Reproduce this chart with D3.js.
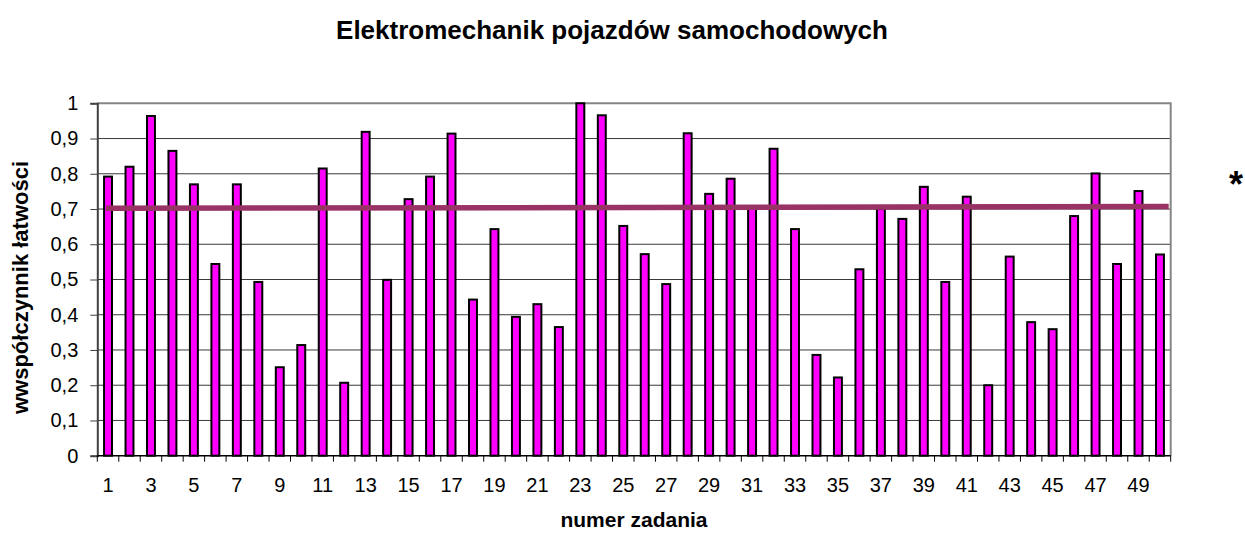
<!DOCTYPE html>
<html>
<head>
<meta charset="utf-8">
<script src="https://cdn.jsdelivr.net/npm/d3@7"></script>
<style>
	body { margin: 0; background: #fff; }
	svg { display: block; font-family: "Liberation Sans", Arial, sans-serif; }
</style>
</head>
<body>
<div id="chart"></div>
<script>
// numer zadania 1..50
const tasks = d3.range(1, 51).map(String);
// współczynnik łatwości per task
const easiness = [
	0.792, 0.820, 0.964, 0.865, 0.770, 0.544, 0.770, 0.493, 0.251, 0.314,
	0.815, 0.207, 0.919, 0.499, 0.728, 0.792, 0.914, 0.443, 0.643, 0.394,
	0.430, 0.365, 1.000, 0.966, 0.652, 0.572, 0.487, 0.915, 0.743, 0.786,
	0.702, 0.871, 0.643, 0.286, 0.222, 0.529, 0.701, 0.672, 0.763, 0.493,
	0.735, 0.200, 0.565, 0.379, 0.359, 0.680, 0.801, 0.544, 0.751, 0.571
];
// hand drawn 0.7 threshold line (left end, right end)
const threshold = [0.702, 0.707];
const yTicks = [0, 0.1, 0.2, 0.3, 0.4, 0.5, 0.6, 0.7, 0.8, 0.9, 1];
const xLabels = tasks.filter((d, i) => i % 2 === 0);

const width = 1245, height = 535;
const margin = {top: 103.3, right: 74.3, bottom: 79.3, left: 97.3};

const svg = d3.select("#chart").append("svg")
	.attr("width", width)
	.attr("height", height);

const x = d3.scaleBand()
	.domain(tasks)
	.range([margin.left, width - margin.right])
	.paddingInner(0.63)
	.paddingOuter(0.315);

const y = d3.scaleLinear()
	.domain([0, 1])
	.range([height - margin.bottom, margin.top]);

const step = x.step();

// gridlines
svg.append("g")
	.selectAll("line")
	.data(yTicks.filter(t => t > 0 && t < 1))
	.join("line")
	.attr("x1", margin.left).attr("x2", width - margin.right)
	.attr("y1", d => y(d)).attr("y2", d => y(d))
	.attr("stroke", "#3a3a3a")
	.attr("stroke-width", 1);

// plot frame top + right
svg.append("path")
	.attr("d", `M${margin.left},${y(1)}H${width - margin.right}V${y(0)}`)
	.attr("fill", "none")
	.attr("stroke", "#858585")
	.attr("stroke-width", 2);

// bars
svg.append("g")
	.selectAll("rect")
	.data(easiness)
	.join("rect")
	.attr("x", (d, i) => x(tasks[i]))
	.attr("y", d => y(d))
	.attr("width", x.bandwidth())
	.attr("height", d => y(0) - y(d))
	.attr("fill", "#ff00ff")
	.attr("stroke", "#000")
	.attr("stroke-width", 2);

// threshold line
svg.append("line")
	.attr("x1", x(tasks[0]) + 2)
	.attr("x2", x.range()[1] - 2)
	.attr("y1", y(threshold[0]))
	.attr("y2", y(threshold[1]))
	.attr("stroke", "#993366")
	.attr("stroke-width", 5.5);

// y axis
const yAxis = d3.axisLeft(y)
	.tickValues(yTicks)
	.tickSize(7)
	.tickPadding(12)
	.tickFormat(d => String(d).replace(".", ","));

svg.append("g")
	.attr("transform", `translate(${margin.left},0)`)
	.call(yAxis)
	.call(g => g.select(".domain").attr("stroke", "#404040").attr("stroke-width", 2))
	.call(g => g.selectAll(".tick line").attr("stroke", "#404040"))
	.call(g => g.selectAll("text").attr("font-size", 20).attr("fill", "#000"));

// x axis: ticks between categories, labels on every other one
const xg = svg.append("g")
	.attr("transform", `translate(0,${y(0)})`);

xg.append("line")
	.attr("x1", margin.left).attr("x2", width - margin.right)
	.attr("stroke", "#000").attr("stroke-width", 1.5);

xg.selectAll(".sep")
	.data(tasks.concat(["end"]))
	.join("line")
	.attr("class", "sep")
	.attr("x1", (d, i) => margin.left + i * step)
	.attr("x2", (d, i) => margin.left + i * step)
	.attr("y1", 0).attr("y2", 6)
	.attr("stroke", "#000");

xg.selectAll("text")
	.data(xLabels)
	.join("text")
	.attr("x", d => x(d) + x.bandwidth() / 2)
	.attr("y", 36)
	.attr("text-anchor", "middle")
	.attr("font-size", 20)
	.text(d => d);

// titles
svg.append("text")
	.attr("x", 612).attr("y", 39)
	.attr("text-anchor", "middle")
	.attr("font-size", 26)
	.attr("font-weight", "bold")
	.text("Elektromechanik pojazdów samochodowych");

svg.append("text")
	.attr("x", (margin.left + width - margin.right) / 2)
	.attr("y", 527)
	.attr("text-anchor", "middle")
	.attr("font-size", 21)
	.attr("font-weight", "bold")
	.text("numer zadania");

svg.append("text")
	.attr("transform", `translate(28,${(y(0) + y(1)) / 2 + 8}) rotate(-90)`)
	.attr("text-anchor", "middle")
	.attr("font-size", 22)
	.attr("font-weight", "bold")
	.text("wwspółczynnik łatwości");

svg.append("text")
	.attr("x", 1236).attr("y", 197)
	.attr("text-anchor", "middle")
	.attr("font-size", 36)
	.attr("font-weight", "bold")
	.text("*");
</script>
</body>
</html>
